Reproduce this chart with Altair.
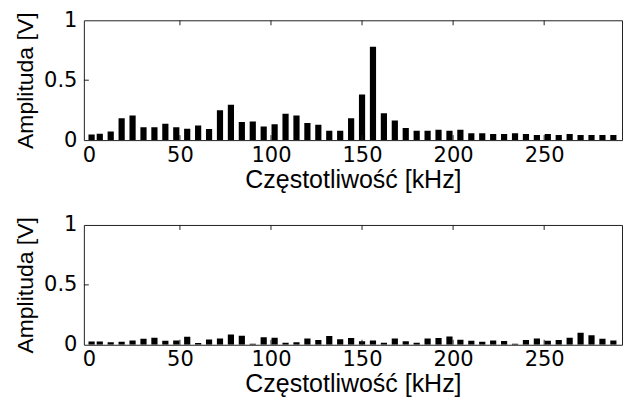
import altair as alt
import pandas as pd

# Spectrum bins (kHz) shared by both panels
freq_khz = [1.5, 6, 12, 18, 24, 30, 36, 42, 48, 54, 60, 66, 72, 78, 84, 90, 96,
            102, 108, 114, 120, 126, 132, 138, 144, 150, 156, 162, 168, 174, 180,
            186, 192, 198, 204, 210, 216, 222, 228, 234, 240, 246, 252, 258, 264,
            270, 276, 282, 288]

# Amplitude spectrum, upper panel (V)
amp_upper = [0.047, 0.053, 0.072, 0.183, 0.205, 0.108, 0.108, 0.136, 0.108, 0.094,
             0.122, 0.092, 0.250, 0.294, 0.150, 0.155, 0.113, 0.133, 0.219, 0.205,
             0.142, 0.128, 0.078, 0.078, 0.183, 0.380, 0.780, 0.225, 0.163, 0.100,
             0.078, 0.078, 0.086, 0.078, 0.086, 0.058, 0.058, 0.050, 0.050, 0.058,
             0.050, 0.042, 0.050, 0.042, 0.050, 0.042, 0.042, 0.042, 0.042]

# Amplitude spectrum, lower panel (V)
amp_lower = [0.028, 0.028, 0.022, 0.025, 0.036, 0.050, 0.058, 0.033, 0.036, 0.067,
             0.014, 0.044, 0.053, 0.086, 0.075, 0.008, 0.062, 0.058, 0.017, 0.022,
             0.053, 0.039, 0.073, 0.046, 0.056, 0.030, 0.036, 0.017, 0.053, 0.030,
             0.017, 0.053, 0.056, 0.069, 0.042, 0.033, 0.025, 0.036, 0.031, 0.008,
             0.039, 0.053, 0.033, 0.039, 0.058, 0.100, 0.080, 0.050, 0.036]

x_ticks = [0, 50, 100, 150, 200, 250]
y_ticks = [0, 0.5, 1]
x_inner_ticks = [50, 100, 150, 200, 250]
y_inner_ticks = [0.5]

W, H = 539, 120
TICK = 5
LABEL_FONT = "DejaVu Sans"
TITLE_FONT = "Liberation Sans"

x_scale = alt.Scale(domain=[0, 290], nice=False, zero=False)
y_scale = alt.Scale(domain=[0, 1], nice=False)

x_axis = alt.Axis(values=x_ticks, title="Częstotliwość [kHz]",
                  labelFlush=False, labelOverlap=False,
                  labelPadding=4, titlePadding=2)
y_axis = alt.Axis(values=y_ticks, format="~g", title="Amplituda [V]",
                  labelPadding=7, titlePadding=6)


def panel(values):
    df = pd.DataFrame({"f": freq_khz, "a": values})
    bars = alt.Chart(df).mark_bar(color="black", size=6.2, clip=True).encode(
        x=alt.X("f:Q", scale=x_scale, axis=x_axis),
        y=alt.Y("a:Q", scale=y_scale, axis=y_axis),
    )
    xt = pd.DataFrame({"t": x_inner_ticks})
    yt = pd.DataFrame({"t": y_inner_ticks})
    bottom_ticks = alt.Chart(xt).mark_rule(color="#222", strokeWidth=1).encode(
        x=alt.X("t:Q", scale=x_scale, axis=x_axis),
        y=alt.value(H), y2=alt.value(H - TICK))
    top_ticks = alt.Chart(xt).mark_rule(color="#222", strokeWidth=1).encode(
        x=alt.X("t:Q", scale=x_scale, axis=x_axis),
        y=alt.value(0), y2=alt.value(TICK))
    left_ticks = alt.Chart(yt).mark_rule(color="#222", strokeWidth=1).encode(
        y=alt.Y("t:Q", scale=y_scale, axis=y_axis),
        x=alt.value(0), x2=alt.value(TICK))
    return alt.layer(bars, bottom_ticks, top_ticks, left_ticks).properties(
        width=W, height=H)


chart = alt.VConcatChart(
    vconcat=[panel(amp_upper), panel(amp_lower)],
    spacing=85,
    bounds="flush",
    padding={"left": 14, "top": 8, "right": 0, "bottom": 0},
    background="white",
).configure_view(
    stroke="#222", strokeWidth=1
).configure_axis(
    domain=False, ticks=False, tickSize=0, grid=False,
    labelFont=LABEL_FONT, labelFontSize=21, labelColor="black",
    titleFont=TITLE_FONT, titleFontWeight="normal", titleColor="black",
).configure_axisX(
    titleFontSize=25
).configure_axisY(
    titleFontSize=23
)

chart.save("out.html", embed_options={"renderer": "svg", "actions": False})
